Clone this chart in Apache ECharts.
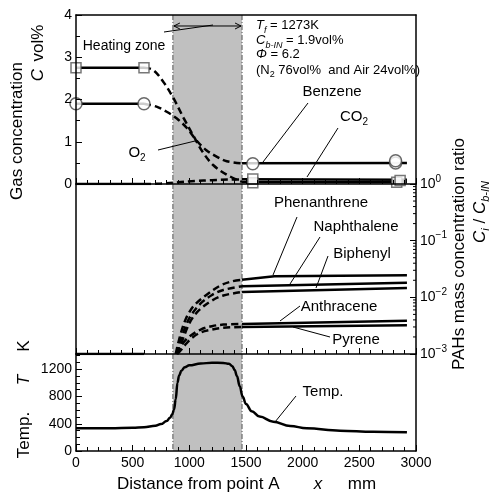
<!DOCTYPE html>
<html><head><meta charset="utf-8">
<script src="https://cdn.jsdelivr.net/npm/echarts@6/dist/echarts.min.js"></script>
<style>html,body{margin:0;padding:0;background:#fff}#c{width:491px;height:496px}</style>
</head><body><div id="c"></div>
<script>
// ---------- data ----------
const heatingZone = [855, 1465];
const xTickLabels = [0, 500, 1000, 1500, 2000, 2500, 3000];

// gas concentration (vol%)
const o2LeftX = [0, 600];            const o2LeftY = [2.75, 2.75];
const o2DashX = [600, 680, 770, 860, 950, 1040, 1120, 1210, 1330, 1465];
const o2DashY = [2.75, 2.70, 2.42, 2.03, 1.56, 1.12, 0.75, 0.45, 0.22, 0.05];
const o2RightX = [1465, 2920];       const o2RightY = [0.05, 0.04];
const o2PointsX = [0, 600, 1560, 2830];
const o2PointsY = [2.75, 2.75, 0.03, 0.04];

const co2LeftX = [0, 600];           const co2LeftY = [0, 0];
const co2DashX = [600, 750, 900, 1050, 1200, 1350, 1465];
const co2DashY = [0, 0.01, 0.04, 0.07, 0.09, 0.105, 0.11];
const co2RightX = [1465, 2920];      const co2RightY = [0.11, 0.1];
const co2PointsX = [1560, 2860];
const co2PointsY = [0.12, 0.08];

const bzLeftX = [0, 600];            const bzLeftY = [1.9, 1.9];
const bzDashX = [600, 710, 800, 890, 980, 1060, 1150, 1240, 1330, 1465];
const bzDashY = [1.9, 1.83, 1.71, 1.55, 1.32, 1.04, 0.80, 0.65, 0.54, 0.49];
const bzRightX = [1465, 2920];       const bzRightY = [0.49, 0.5];
const bzPointsX = [0, 600, 1560, 2820, 2820];
const bzPointsY = [1.9, 1.9, 0.48, 0.5, 0.55];

// PAHs ratio
const pahZeroX = [0, 600];           const pahZeroY = [0.001, 0.001];
const phenDashX = [880, 900, 930, 965, 1000, 1050, 1150, 1270, 1370, 1465];
const phenDashY = [0.001, 0.0015, 0.0025, 0.004, 0.0055, 0.0075, 0.011, 0.016, 0.019, 0.0205];
const phenX = [1465, 1750, 2920];    const phenY = [0.0205, 0.0235, 0.0245];
const naphDashX = [885, 910, 940, 975, 1020, 1100, 1200, 1300, 1465];
const naphDashY = [0.001, 0.0015, 0.0022, 0.0034, 0.005, 0.0078, 0.011, 0.0135, 0.0157];
const naphX = [1465, 2920];          const naphY = [0.0157, 0.018];
const biphDashX = [890, 920, 950, 985, 1030, 1100, 1200, 1300, 1465];
const biphDashY = [0.001, 0.0014, 0.002, 0.003, 0.0044, 0.0063, 0.0088, 0.0108, 0.0124];
const biphX = [1465, 2920];          const biphY = [0.0124, 0.0146];
const anthDashX = [890, 920, 960, 1010, 1100, 1200, 1300, 1465];
const anthDashY = [0.001, 0.0013, 0.0017, 0.0021, 0.0027, 0.0031, 0.0033, 0.0034];
const anthX = [1465, 2920];          const anthY = [0.0034, 0.00385];
const pyrDashX = [895, 930, 970, 1020, 1100, 1200, 1300, 1465];
const pyrDashY = [0.001, 0.0012, 0.0015, 0.0019, 0.0024, 0.0027, 0.0029, 0.003];
const pyrX = [1465, 2920];           const pyrY = [0.003, 0.0032];
const logMinorTicks = [0.002,0.003,0.004,0.005,0.006,0.007,0.008,0.009,
                       0.02,0.03,0.04,0.05,0.06,0.07,0.08,0.09,
                       0.2,0.3,0.4,0.5,0.6,0.7,0.8,0.9];

// temperature (K)
const tempX = [0, 300, 500, 600, 700, 750, 800, 830, 850, 865, 880, 895, 910, 930, 960, 1000, 1100, 1200, 1300, 1350, 1380, 1400, 1420, 1445, 1470, 1500, 1550, 1620, 1740, 1890, 2035, 2330, 2620, 2920];
const tempY = [334, 336, 342, 350, 372, 395, 440, 490, 540, 610, 760, 1000, 1110, 1180, 1230, 1258, 1285, 1297, 1294, 1280, 1245, 1190, 1100, 950, 800, 690, 585, 505, 431, 368, 333, 299, 284, 275];

// ---------- chart ----------
const FONT = '"Liberation Sans", Arial, sans-serif';
const zip = (a, b) => a.map((v, i) => [v, b[i]]);
const chart = echarts.init(document.getElementById('c'), null, {renderer: 'canvas'});

function line(xs, ys, dashed, xi, yi) {
  return {type: 'line', xAxisIndex: xi, yAxisIndex: yi, data: zip(xs, ys), symbol: 'none',
    smooth: dashed ? 0.35 : false, z: 4, silent: true,
    lineStyle: {color: '#000', width: 2.5, type: dashed ? [7, 4] : 'solid'}};
}
function band(xi, yi, yRef) {
  return {type: 'custom', xAxisIndex: xi, yAxisIndex: yi, z: 1, silent: true, data: [heatingZone],
    renderItem: (params, api) => {
      const cs = params.coordSys;
      const x0 = api.coord([api.value(0), yRef])[0];
      const x1 = api.coord([api.value(1), yRef])[0];
      const ln = (x) => ({type: 'line', shape: {x1: x, y1: cs.y, x2: x, y2: cs.y + cs.height},
        style: {stroke: '#555', lineWidth: 1, lineDash: [5, 2, 1, 2]}});
      return {type: 'group', children: [
        {type: 'rect', shape: {x: x0, y: cs.y, width: x1 - x0, height: cs.height}, style: {fill: '#c0c0c0'}},
        ln(x0), ln(x1)]};
    }};
}
const arrowLevel = 3.74;
const arrowSeries = {type: 'custom', xAxisIndex: 0, yAxisIndex: 0, z: 5, silent: true, data: [heatingZone],
  renderItem: (params, api) => {
    const p0 = api.coord([api.value(0), arrowLevel]);
    const p1 = api.coord([api.value(1), arrowLevel]);
    const st = {stroke: '#000', lineWidth: 1, fill: null};
    return {type: 'group', children: [
      {type: 'line', shape: {x1: p0[0] + 1, y1: p0[1], x2: p1[0] - 1, y2: p1[1]}, style: st},
      {type: 'polyline', shape: {points: [[p0[0] + 7, p0[1] - 3], [p0[0] + 1, p0[1]], [p0[0] + 7, p0[1] + 3]]}, style: st},
      {type: 'polyline', shape: {points: [[p1[0] - 7, p1[1] - 3], [p1[0] - 1, p1[1]], [p1[0] - 7, p1[1] + 3]]}, style: st}
    ]};
  }};
const logMinorSeries = {type: 'custom', xAxisIndex: 2, yAxisIndex: 3, z: 11, silent: true,
  data: logMinorTicks.map(v => [3000, v]),
  renderItem: (params, api) => {
    const p = api.coord([api.value(0), api.value(1)]);
    return {type: 'line', shape: {x1: p[0] - 3, y1: p[1], x2: p[0], y2: p[1]}, style: {stroke: '#000', lineWidth: 1}};
  }};

const axLine = {lineStyle: {color: '#000', width: 1.5}};
const lab = {color: '#000', fontSize: 14, fontFamily: FONT};
function xAx(grid, pos, labels) {
  return {type: 'value', gridIndex: grid, position: pos, min: 0, max: 3000, interval: 500, z: 10,
    axisLine: Object.assign({onZero: false}, axLine),
    axisTick: {show: pos === 'bottom', inside: true, length: 6, lineStyle: {color: '#000', width: 1}},
    minorTick: {show: pos === 'bottom', splitNumber: 5, length: 4, lineStyle: {color: '#000', width: 1}},
    axisLabel: Object.assign({show: labels, margin: 5,
      formatter: v => (xTickLabels.indexOf(v) >= 0 ? String(v) : '')}, lab),
    splitLine: {show: false}};
}
function plainY(grid, pos, type, min, max) {
  return {type: type, gridIndex: grid, position: pos, min: min, max: max, z: 10,
    axisLine: Object.assign({onZero: false}, axLine), axisTick: {show: false}, axisLabel: {show: false},
    splitLine: {show: false}};
}

const sub = (size) => ({fontSize: size, fontFamily: FONT, fontStyle: 'italic', verticalAlign: 'bottom', lineHeight: size + 1, color: '#000'});

const option = {
  animation: false,
  backgroundColor: '#fff',
  textStyle: {fontFamily: FONT},
  grid: [
    {left: 76, right: 75, top: 15, height: 169},
    {left: 76, right: 75, top: 184, height: 170},
    {left: 76, right: 75, top: 354, height: 97}
  ],
  xAxis: [xAx(0, 'bottom', false), xAx(0, 'top', false), xAx(1, 'bottom', false), xAx(2, 'bottom', true)],
  yAxis: [
    {type: 'value', gridIndex: 0, position: 'left', min: 0, max: 4, interval: 1, z: 10,
     axisLine: Object.assign({onZero: false}, axLine),
     axisTick: {inside: true, length: 6, lineStyle: {color: '#000', width: 1}},
     minorTick: {show: true, splitNumber: 2, length: 4, lineStyle: {color: '#000', width: 1}},
     axisLabel: Object.assign({margin: 4}, lab), splitLine: {show: false}},
    plainY(0, 'right', 'value', 0, 4),
    plainY(1, 'left', 'value', 0, 1),
    {type: 'log', logBase: 10, gridIndex: 1, position: 'right', min: 0.001, max: 1, z: 10,
     axisLine: Object.assign({onZero: false}, axLine),
     axisTick: {inside: true, length: 6, lineStyle: {color: '#000', width: 1}},
     axisLabel: {margin: 4, color: '#000',
       formatter: v => '{b|10}{s|' + String(Math.round(Math.log10(v))).replace('-', '\u2212') + '}',
       rich: {b: {fontSize: 14, fontFamily: FONT, lineHeight: 20, color: '#000'},
              s: {fontSize: 10, fontFamily: FONT, lineHeight: 11, verticalAlign: 'top', color: '#000'}}},
     splitLine: {show: false}},
    {type: 'value', gridIndex: 2, position: 'left', min: 0, max: 1425, interval: 400, z: 10,
     axisLine: Object.assign({onZero: false}, axLine),
     axisTick: {inside: true, length: 6, lineStyle: {color: '#000', width: 1}},
     minorTick: {show: true, splitNumber: 4, length: 4, lineStyle: {color: '#000', width: 1}},
     axisLabel: Object.assign({margin: 4, formatter: v => (v % 400 === 0 ? String(v) : '')}, lab),
     splitLine: {show: false}},
    plainY(2, 'right', 'value', 0, 1425)
  ],
  series: [
    band(0, 0, 1), band(2, 3, 0.1), band(3, 4, 100),
    arrowSeries,
    // gas panel
    line(o2LeftX, o2LeftY, false, 0, 0), line(o2DashX, o2DashY, true, 0, 0), line(o2RightX, o2RightY, false, 0, 0),
    line(bzLeftX, bzLeftY, false, 0, 0), line(bzDashX, bzDashY, true, 0, 0), line(bzRightX, bzRightY, false, 0, 0),
    line(co2LeftX, co2LeftY, false, 0, 0), line(co2DashX, co2DashY, true, 0, 0), line(co2RightX, co2RightY, false, 0, 0),
    {type: 'scatter', xAxisIndex: 0, yAxisIndex: 0, z: 6, silent: true, symbol: 'rect', symbolSize: 10,
     data: zip(o2PointsX, o2PointsY).concat(zip(co2PointsX, co2PointsY)),
     itemStyle: {color: '#fff', borderColor: '#555', borderWidth: 1.5}},
    {type: 'scatter', xAxisIndex: 0, yAxisIndex: 0, z: 6, silent: true, symbol: 'circle', symbolSize: 12,
     data: zip(bzPointsX, bzPointsY),
     itemStyle: {color: '#fff', borderColor: '#444', borderWidth: 1.5}},
    // PAH panel
    line(pahZeroX, pahZeroY, false, 2, 3),
    line(phenDashX, phenDashY, true, 2, 3), line(phenX, phenY, false, 2, 3),
    line(naphDashX, naphDashY, true, 2, 3), line(naphX, naphY, false, 2, 3),
    line(biphDashX, biphDashY, true, 2, 3), line(biphX, biphY, false, 2, 3),
    line(anthDashX, anthDashY, true, 2, 3), line(anthX, anthY, false, 2, 3),
    line(pyrDashX, pyrDashY, true, 2, 3), line(pyrX, pyrY, false, 2, 3),
    logMinorSeries,
    // temperature panel
    Object.assign(line(tempX, tempY, false, 3, 4), {smooth: 0.4, smoothMonotone: 'x'})
  ],
  graphic: []
};

// ---------- annotations (text + leader lines) ----------
const T = (text, x, y, size, extra) => Object.assign({type: 'text', x: x, y: y, z: 20, silent: true,
  style: Object.assign({text: text, fill: '#000', font: size + 'px ' + FONT, align: 'center', verticalAlign: 'middle'}, extra || {})});
const L = (x1, y1, x2, y2) => ({type: 'line', z: 20, silent: true, shape: {x1, y1, x2, y2}, style: {stroke: '#000', lineWidth: 1}});
const R = (text, x, y, rich, extra) => ({type: 'text', x: x, y: y, z: 20, silent: true, rotation: (extra && extra.rot) || 0,
  style: {text: text, rich: rich, align: (extra && extra.align) || 'center', verticalAlign: 'middle', fill: '#000'}});
const n = (size) => ({fontSize: size, fontFamily: FONT, lineHeight: size + 6, color: '#000'});
const it = (size) => ({fontSize: size, fontFamily: FONT, fontStyle: 'italic', lineHeight: size + 6, color: '#000'});
const ROT = Math.PI / 2;

option.graphic = [
  T('Heating zone', 124, 46, 14), L(164, 32, 213, 25),
  R('{i|T}{s|f}{n| = 1273K}', 256, 25, {i: it(13), s: sub(9), n: n(13)}, {align: 'left'}),
  R('{i|C}{s|b-IN}{n| = 1.9vol%}', 256, 40, {i: it(13), s: sub(9), n: n(13)}, {align: 'left'}),
  R('{i|\u03A6}{n| = 6.2}', 256, 54, {i: it(13), n: n(13)}, {align: 'left'}),
  R('{n|(N}{s|2}{n| 76vol%  and Air 24vol%)}', 256, 70, {n: n(13), s: Object.assign(sub(9), {fontStyle: 'normal'})}, {align: 'left'}),
  T('Benzene', 332, 92, 15), L(308, 103, 263, 162),
  R('{n|CO}{s|2}', 354, 117, {n: n(15), s: Object.assign(sub(10), {fontStyle: 'normal'})}), L(338, 128, 307, 177),
  R('{n|O}{s|2}', 137, 153, {n: n(15), s: Object.assign(sub(10), {fontStyle: 'normal'})}), L(158, 150, 195, 141),
  T('Phenanthrene', 321, 203, 15), L(297, 217, 273, 275),
  T('Naphthalene', 356, 227, 15), L(320, 237, 290, 284),
  T('Biphenyl', 362, 254, 15), L(328, 256, 316, 288),
  T('Anthracene', 339, 307, 15), L(300, 306, 280, 321),
  T('Pyrene', 356, 340, 15), L(330, 337, 293, 327),
  T('Temp.', 323, 392, 15), L(296, 396, 275, 422),
  // axis titles
  Object.assign(T('Gas concentration', 17, 131, 17), {rotation: ROT}),
  Object.assign(T('vol%', 38, 43, 17), {rotation: ROT}),
  Object.assign(T('C', 38, 75, 17, {font: 'italic 17px ' + FONT}), {rotation: ROT}),
  Object.assign(T('Temp.', 24, 435, 17), {rotation: ROT}),
  Object.assign(T('T', 24, 380, 17, {font: 'italic 17px ' + FONT}), {rotation: ROT}),
  Object.assign(T('K', 24, 346, 17), {rotation: ROT}),
  Object.assign(T('PAHs mass concentration ratio', 459, 254, 17), {rotation: ROT}),
  R('{i|C}{s|i}{n| / }{i|C}{s|b-IN}', 480, 212, {i: it(17), n: n(17), s: sub(11)}, {rot: ROT}),
  T('Distance from point A', 117, 484, 17, {align: 'left'}),
  T('x', 318, 484, 17, {font: 'italic 17px ' + FONT}),
  T('mm', 362, 484, 17)
];

chart.setOption(option);
</script>
</body></html>
